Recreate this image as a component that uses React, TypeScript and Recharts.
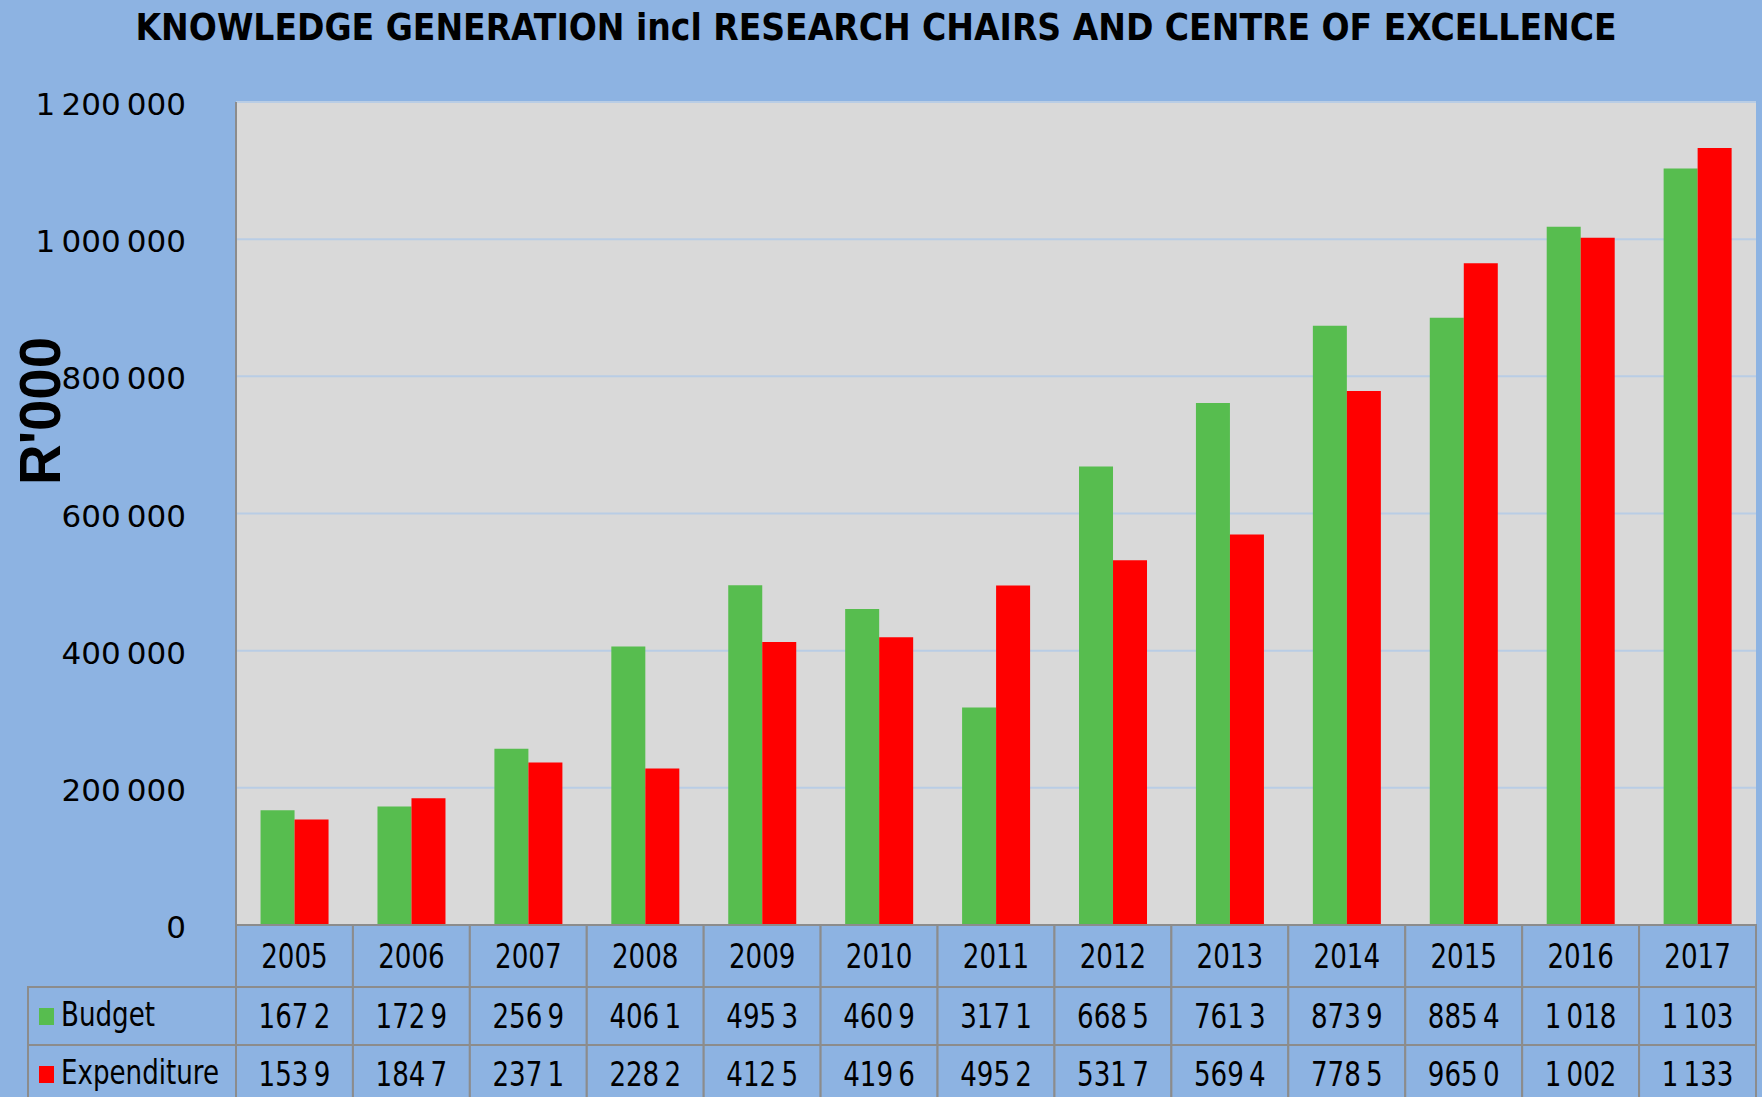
import React from "react";
import { Bar, BarChart, CartesianGrid, XAxis, YAxis } from "recharts";

const years = ["2005", "2006", "2007", "2008", "2009", "2010", "2011", "2012", "2013", "2014", "2015", "2016", "2017"];
const budget = [167200, 172900, 256900, 406100, 495300, 460900, 317100, 668500, 761300, 873900, 885400, 1018000, 1103000];
const expenditure = [153900, 184700, 237100, 228200, 412500, 419600, 495200, 531700, 569400, 778500, 965000, 1002000, 1133000];
const yTicks = [0, 200000, 400000, 600000, 800000, 1000000, 1200000];

const data = years.map((year, i) => ({ year, budget: budget[i], expenditure: expenditure[i] }));

const W = 1762;
const H = 1097;
const PLOT_LEFT = 236;
const PLOT_RIGHT = 1756;
const PLOT_TOP = 102;
const PLOT_BOTTOM = 925;
const COL_W = (PLOT_RIGHT - PLOT_LEFT) / years.length;
const ROW1 = 62;
const ROW2 = 58;
const BG = "#8db3e2";
const GREEN = "#57bd4f";
const RED = "#ff0000";
const BORDER = "#8c8c8c";
const TABLE_FONT = "'Liberation Sans Narrow', 'DejaVu Sans Condensed', sans-serif";

// "1 200 000" style, thin space as group separator
const fmt = (v: number) => String(v).replace(/\B(?=(\d{3})+(?!\d))/g, "\u2009");
// the table cells clip the numbers, showing only the first 5 characters
const cellText = (v: number) => fmt(v).slice(0, 5);

// narrow, tall text like the table font of the original
const NarrowText = ({ x, y, anchor = "middle", children }: any) => (
  <text
    transform={`translate(${x} ${y}) scale(0.88 1)`}
    textAnchor={anchor}
    fontFamily={TABLE_FONT}
    fontSize={33}
    fill="#000"
  >
    {children}
  </text>
);

const TableTick = (props: any) => {
  const { x, payload } = props;
  const i = payload.index;
  const y0 = PLOT_BOTTOM;
  const left = x - COL_W / 2;
  return (
    <g>
      <rect x={left} y={y0} width={COL_W} height={ROW1} fill={BG} stroke={BORDER} strokeWidth={2} />
      <rect x={left} y={y0 + ROW1} width={COL_W} height={ROW2} fill={BG} stroke={BORDER} strokeWidth={2} />
      <rect x={left} y={y0 + ROW1 + ROW2} width={COL_W} height={ROW2} fill={BG} stroke={BORDER} strokeWidth={2} />
      <NarrowText x={x} y={y0 + 43}>{payload.value}</NarrowText>
      <NarrowText x={x} y={y0 + ROW1 + 41}>{cellText(budget[i])}</NarrowText>
      <NarrowText x={x} y={y0 + ROW1 + ROW2 + 41}>{cellText(expenditure[i])}</NarrowText>
    </g>
  );
};

const Overlay = () => {
  const legendRows = [
    { name: "Budget", color: GREEN },
    { name: "Expenditure", color: RED },
  ];
  return (
    <svg width={W} height={H} style={{ position: "absolute", left: 0, top: 0, pointerEvents: "none" }}>
      <text
        x={876}
        y={40}
        textAnchor="middle"
        fontFamily={TABLE_FONT}
        fontWeight="bold"
        fontSize={38}
        textLength={1481}
        lengthAdjust="spacingAndGlyphs"
      >
        KNOWLEDGE GENERATION incl RESEARCH CHAIRS AND CENTRE OF EXCELLENCE
      </text>
      <text
        transform="translate(60 411) rotate(-90)"
        textAnchor="middle"
        fontFamily="'Liberation Sans', Arial, sans-serif"
        fontWeight="bold"
        fontSize={58}
        textLength={148}
        lengthAdjust="spacingAndGlyphs"
      >
        R'000
      </text>
      {legendRows.map((r, k) => {
        const top = PLOT_BOTTOM + ROW1 + k * ROW2;
        return (
          <g key={r.name}>
            <rect x={28} y={top} width={PLOT_LEFT - 28} height={ROW2} fill="none" stroke={BORDER} strokeWidth={2} />
            <rect x={39} y={top + 21} width={15} height={17} fill={r.color} />
            <NarrowText x={61} y={top + 39} anchor="start">
              {r.name}
            </NarrowText>
          </g>
        );
      })}
    </svg>
  );
};

export default function App() {
  return (
    <div style={{ position: "absolute", left: 0, top: 0, width: W, height: H, background: BG }}>
      <BarChart
        width={W}
        height={H}
        data={data}
        margin={{ top: PLOT_TOP, right: W - PLOT_RIGHT, bottom: 0, left: 0 }}
        barCategoryGap="21%"
        barGap={0}
      >
        <CartesianGrid vertical={false} stroke="#b9cde5" strokeWidth={2} fill="#d9d9d9" />
        <XAxis
          dataKey="year"
          height={H - PLOT_BOTTOM}
          tick={<TableTick />}
          tickLine={false}
          axisLine={{ stroke: BORDER, strokeWidth: 2 }}
          interval={0}
        />
        <YAxis
          width={PLOT_LEFT}
          domain={[0, 1200000]}
          ticks={yTicks}
          tickFormatter={fmt}
          tickLine={false}
          tickMargin={44}
          axisLine={{ stroke: BORDER, strokeWidth: 2 }}
          tick={{ fill: "#000", fontSize: 31, fontFamily: "'DejaVu Sans', Verdana, sans-serif", dy: 2 }}
        />
        <Bar dataKey="budget" fill={GREEN} isAnimationActive={false} />
        <Bar dataKey="expenditure" fill={RED} isAnimationActive={false} />
      </BarChart>
      <Overlay />
    </div>
  );
}
